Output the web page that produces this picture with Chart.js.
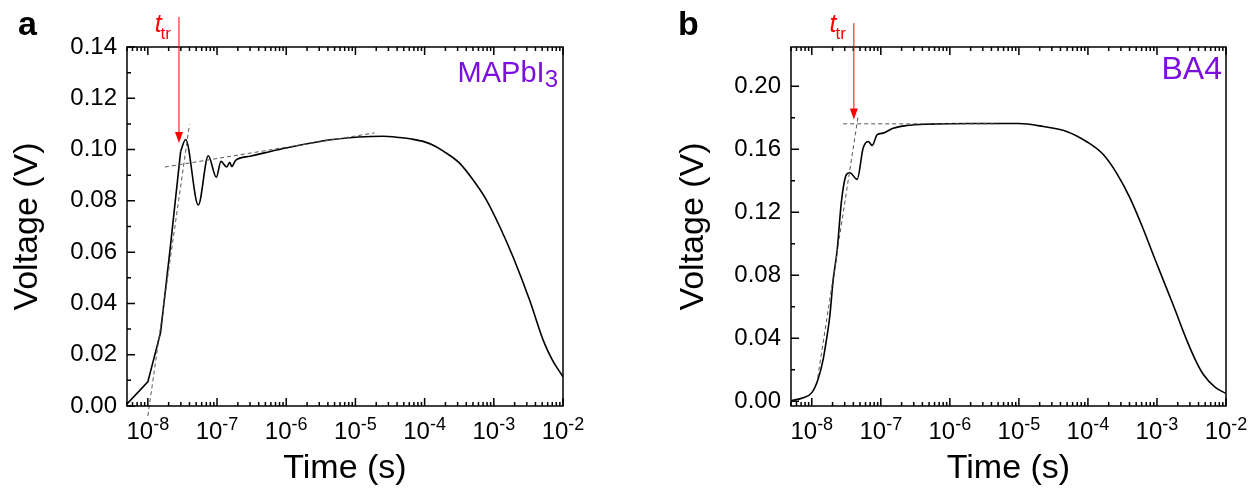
<!DOCTYPE html>
<html>
<head>
<meta charset="utf-8">
<script src="https://cdn.jsdelivr.net/npm/chart.js@4.4.0/dist/chart.umd.min.js"></script>
<style>
body{margin:0;background:#fff;}
#wrap{position:relative;width:1258px;height:500px;overflow:hidden;}
canvas{position:absolute;top:0;}
#chartA{left:0;}
#chartB{left:629px;}
</style>
</head>
<body>
<div id="wrap">
<canvas id="chartA" width="629" height="500"></canvas>
<canvas id="chartB" width="629" height="500"></canvas>
</div>
<script>
var FONT='"Liberation Sans", Arial, sans-serif';
var PURPLE='#7b0fe0';

// shared x axis (time, s)
var xMin=5e-9, xMax=1e-2;
var xDecades=[-8,-7,-6,-5,-4,-3,-2];

// panel a - MAPbI3
var timeA=[5e-9,1e-8,1.53e-8,2.09e-8,2.98e-8,3.52e-8,5.36e-8,7.48e-8,9.77e-8,1.14e-7,1.38e-7,1.53e-7,1.63e-7,1.86e-7,3e-7,5e-7,9.9e-7,4.67e-6,2.5e-5,4.35e-5,6.5e-5,1e-4,1.4e-4,1.84e-4,3.2e-4,5e-4,7.8e-4,1.22e-3,1.9e-3,3.3e-3,5.2e-3,7e-3,1e-2];
var voltA=[0.0008,0.0094,0.0287,0.0608,0.0993,0.1039,0.0784,0.0976,0.0892,0.0954,0.0932,0.0950,0.0934,0.0958,0.0974,0.0988,0.1006,0.1039,0.1052,0.1047,0.1041,0.1030,0.1014,0.0995,0.0947,0.0882,0.0804,0.0699,0.0581,0.0412,0.0255,0.0180,0.0114];
var sharpA=5; // the first points of the rise are joined with straight segments
var fitSteepA={t:[1e-8,4.0e-8],v:[-0.0039,0.1098]};
var fitFlatA={t:[1.76e-8,1.88e-5],v:[0.0932,0.1065]};
var arrowA={t:2.82e-8,from:0.1517,to:0.1026};
var yTicksA=[0,0.02,0.04,0.06,0.08,0.10,0.12,0.14];
var yMinorA=[0.01,0.03,0.05,0.07,0.09,0.11,0.13];

// panel b - BA4
var timeB=[5e-9,7.5e-9,1e-8,1.23e-8,1.46e-8,1.63e-8,1.82e-8,2.04e-8,2.33e-8,2.69e-8,3.18e-8,3.56e-8,4.54e-8,5.55e-8,6.56e-8,7.5e-8,8.86e-8,1.08e-7,1.51e-7,2.36e-7,5e-7,2e-6,1e-5,2.25e-5,4.9e-5,9.5e-5,1.67e-4,2.6e-4,4.06e-4,6.3e-4,9.3e-4,1.72e-3,2.69e-3,3.7e-3,4.7e-3,7e-3,1e-2];
var voltB=[0.0003,0.0023,0.0055,0.0139,0.0265,0.039,0.0537,0.0769,0.0958,0.127,0.144,0.1451,0.1409,0.1608,0.165,0.1625,0.1693,0.1703,0.1734,0.1751,0.1760,0.1764,0.1764,0.1745,0.1714,0.165,0.1567,0.1449,0.1292,0.1096,0.0905,0.0611,0.039,0.0252,0.0170,0.0088,0.0050];
var sharpB=0;
var fitSteepB={t:[1.22e-8,4.69e-8],v:[0.0151,0.181]};
var fitFlatB={t:[2.85e-8,5e-6],v:[0.1762,0.1762]};
var arrowB={t:4.07e-8,from:0.2402,to:0.1789};
var yTicksB=[0,0.04,0.08,0.12,0.16,0.20];
var yMinorB=[0.02,0.06,0.10,0.14,0.18];

function pts(t,v){
  return t.map(function(x,i){return {x:x,y:v[i]};});
}

function decoPlugin(cfg){
  return {
    id:'deco',
    afterDraw:function(chart){
      var ctx=chart.ctx, a=chart.chartArea, xs=chart.scales.x, ys=chart.scales.y;
      ctx.save();
      ctx.strokeStyle='#000';
      ctx.lineWidth=1.5;
      ctx.strokeRect(a.left,a.top,a.right-a.left,a.bottom-a.top);
      // inward ticks: bottom + top on log axis, left on y
      ctx.beginPath();
      for(var e=-9;e<=-2;e++){
        for(var m=1;m<=9;m++){
          var v=m*Math.pow(10,e);
          if(v<xMin*0.999||v>xMax*1.001) continue;
          var px=xs.getPixelForValue(v), len=(m==1)?8:4;
          ctx.moveTo(px,a.bottom); ctx.lineTo(px,a.bottom-len);
          ctx.moveTo(px,a.top); ctx.lineTo(px,a.top+len);
        }
      }
      cfg.yTicks.forEach(function(v){
        var py=ys.getPixelForValue(v);
        ctx.moveTo(a.left,py); ctx.lineTo(a.left+8,py);
      });
      cfg.yMinor.forEach(function(v){
        var py=ys.getPixelForValue(v);
        ctx.moveTo(a.left,py); ctx.lineTo(a.left+4,py);
      });
      ctx.stroke();

      // decade labels 10^n
      ctx.fillStyle='#000';
      ctx.textAlign='left';
      ctx.textBaseline='alphabetic';
      xDecades.forEach(function(e){
        var px=xs.getPixelForValue(Math.pow(10,e));
        var exp=String(e);
        ctx.font='24px '+FONT;
        var w1=ctx.measureText('10').width;
        ctx.font='18px '+FONT;
        var w2=ctx.measureText(exp).width;
        var x0=px-(w1+w2)/2;
        ctx.font='24px '+FONT;
        ctx.fillText('10',x0,a.bottom+33);
        ctx.font='18px '+FONT;
        ctx.fillText(exp,x0+w1,a.bottom+24);
      });

      // red arrow + t_tr
      var ax=xs.getPixelForValue(cfg.arrow.t);
      var y1=ys.getPixelForValue(cfg.arrow.from), y2=ys.getPixelForValue(cfg.arrow.to);
      ctx.strokeStyle='#ff0000';
      ctx.fillStyle='#ff0000';
      ctx.lineWidth=1;
      ctx.beginPath(); ctx.moveTo(ax,y1); ctx.lineTo(ax,y2-10); ctx.stroke();
      ctx.beginPath(); ctx.moveTo(ax-4,y2-11); ctx.lineTo(ax+4,y2-11); ctx.lineTo(ax,y2); ctx.closePath(); ctx.fill();
      ctx.textAlign='right';
      ctx.font='17px '+FONT;
      ctx.fillText('tr',ax-8,a.top-8);
      var wtr=ctx.measureText('tr').width;
      ctx.font='italic 25px '+FONT;
      ctx.fillText('t',ax-7-wtr,a.top-15);

      // panel letter
      ctx.fillStyle='#000';
      ctx.textAlign='left';
      ctx.font='bold 34px '+FONT;
      ctx.fillText(cfg.letter,cfg.letterX,35);

      // sample name
      ctx.fillStyle=PURPLE;
      ctx.textAlign='right';
      var ws=0;
      if(cfg.sub){
        ctx.font=cfg.subSize+'px '+FONT;
        ctx.fillText(cfg.sub,a.right-5,a.top+40);
        ws=ctx.measureText(cfg.sub).width;
      }
      ctx.font=cfg.labelSize+'px '+FONT;
      ctx.fillText(cfg.label,a.right-cfg.labelInset-ws,a.top+cfg.labelBase);
      ctx.restore();
    }
  };
}

function makeChart(id,cfg){
  var dashed={borderDash:[4,3],borderWidth:1,borderColor:'#555',pointRadius:0,clip:false};
  var curve={borderColor:'#000',borderWidth:1.6,pointRadius:0};
  var sets=[
    Object.assign({data:pts(cfg.steep.t,cfg.steep.v)},dashed),
    Object.assign({data:pts(cfg.flat.t,cfg.flat.v)},dashed)
  ];
  var k=cfg.sharp;
  if(k>1){
    sets.push(Object.assign({data:pts(cfg.time.slice(0,k),cfg.volt.slice(0,k)),tension:0},curve));
  }
  var s0=k>1?k-1:0;
  sets.push(Object.assign({data:pts(cfg.time.slice(s0),cfg.volt.slice(s0)),cubicInterpolationMode:'monotone'},curve));
  return new Chart(document.getElementById(id),{
    type:'line',
    data:{datasets:sets},
    options:{
      responsive:false,
      animation:false,
      layout:{padding:{top:47,right:cfg.padRight,left:0,bottom:0}},
      plugins:{legend:{display:false},tooltip:{enabled:false}},
      scales:{
        x:{
          type:'logarithmic',min:xMin,max:xMax,
          grid:{display:false,drawTicks:false},
          border:{display:false},
          ticks:{display:false},
          title:{display:true,text:'Time (s)',color:'#000',font:{family:FONT,size:34},padding:{top:0,bottom:11}},
          afterFit:function(s){s.height=94;}
        },
        y:{
          min:cfg.yMin,max:cfg.yMax,
          grid:{display:false,drawTicks:false},
          border:{display:false},
          ticks:{color:'#000',font:{family:FONT,size:24},padding:10,
            callback:function(v){return Number(v).toFixed(2);}},
          afterBuildTicks:function(s){s.ticks=cfg.yTicks.map(function(v){return {value:v};});},
          title:{display:true,text:'Voltage (V)',color:'#000',font:{family:FONT,size:34},padding:{top:cfg.titlePad,bottom:0}},
          afterFit:function(s){s.width=cfg.axisLeft;}
        }
      }
    },
    plugins:[decoPlugin(cfg)]
  });
}

makeChart('chartA',{
  time:timeA,volt:voltA,sharp:sharpA,steep:fitSteepA,flat:fitFlatA,arrow:arrowA,
  yTicks:yTicksA,yMinor:yMinorA,yMin:0,yMax:0.14,
  axisLeft:127,padRight:66,titlePad:7,
  letter:'a',letterX:18,
  label:'MAPbI',sub:'3',labelSize:29,subSize:24,labelInset:5,labelBase:35
});

makeChart('chartB',{
  time:timeB,volt:voltB,sharp:sharpB,steep:fitSteepB,flat:fitFlatB,arrow:arrowB,
  yTicks:yTicksB,yMinor:yMinorB,yMin:-0.003,yMax:0.225,
  axisLeft:162,padRight:32,titlePad:44,
  letter:'b',letterX:49,
  label:'BA4',sub:'',labelSize:32,subSize:24,labelInset:4,labelBase:32
});
</script>
</body>
</html>
